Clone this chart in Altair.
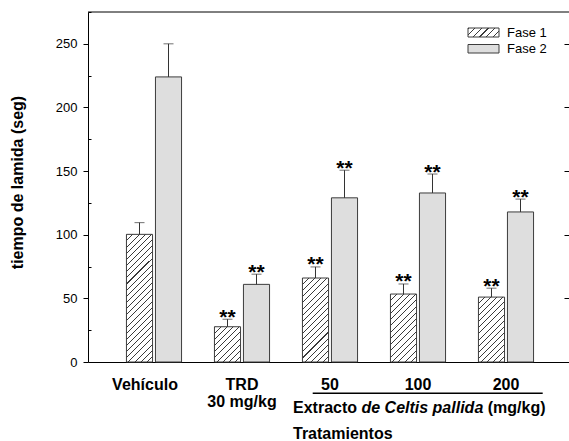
import math
import pandas as pd
import altair as alt

# ---- data ----
groups = ["Vehículo", "TRD\n30 mg/kg", "50", "100", "200"]
fases = ["Fase 1", "Fase 2"]
fase1 = [100.3, 27.7, 66.0, 53.4, 51.0]
fase1_top = [109.5, 33.6, 74.7, 61.3, 58.0]
fase2 = [224.0, 61.0, 129.0, 132.8, 117.9]
fase2_top = [250.0, 69.0, 150.7, 147.7, 128.0]
sig1 = ["", "**", "**", "**", "**"]
sig2 = ["", "**", "**", "**", "**"]
y_major = [0, 50, 100, 150, 200, 250]
y_minor = [25, 75, 125, 175, 225, 275]
ytitle = "tiempo de lamida (seg)"

rows = []
for i, g in enumerate(groups):
    rows.append(dict(grp=g, fase="Fase 1", val=fase1[i], top=fase1_top[i], sig=sig1[i]))
    rows.append(dict(grp=g, fase="Fase 2", val=fase2[i], top=fase2_top[i], sig=sig2[i]))
df = pd.DataFrame(rows)

W, H = 481, 350
YMAX = 275
FONT = "Liberation Sans"
EDGE = "#3c3c3c"
GRAY = "#dedede"


def hatch(w, h, period=4.4, frac=0.17, line="#3a3a3a"):
    L = (w + h) / math.sqrt(2)
    n = max(1, round(L / period))
    s = (w + h) / (w * w + h * h)
    stops = []
    for k in range(n):
        t0, t1, t2 = k / n, (k + frac) / n, (k + 1) / n
        stops += [
            {"offset": t0, "color": line},
            {"offset": t1, "color": line},
            {"offset": t1, "color": "white"},
            {"offset": t2, "color": "white"},
        ]
    return {"gradient": "linear", "x1": 0, "y1": 0, "x2": s * w, "y2": s * h, "stops": stops}


x_enc = alt.X(
    "grp:N",
    sort=groups,
    scale=alt.Scale(paddingInner=0, paddingOuter=0.233, align=0.5366),
    axis=alt.Axis(
        title=None, ticks=False, tickSize=0, domain=True, domainColor="black",
        labelExpr="split(datum.label, '\\n')",
        labelFont=FONT, labelFontSize=16, labelFontWeight="bold", labelColor="black",
        labelBaseline="middle", labelPadding=22, labelLineHeight=17.6, labelAngle=0,
        labelOffset={"condition": {"test": "datum.value === 'Vehículo'", "value": -9}, "value": 0},
    ),
)
xo_enc = alt.XOffset("fase:N", sort=fases,
                     scale=alt.Scale(paddingInner=0.1, paddingOuter=0.567))
y_scale = alt.Scale(domain=[0, YMAX], nice=False, zero=True)


def y_enc(field, axis=None):
    if axis is None:
        return alt.Y(field, type="quantitative", scale=y_scale, axis=None)
    return alt.Y(field, type="quantitative", scale=y_scale, axis=axis)


axis_major = alt.Axis(
    values=y_major, tickSize=5, tickColor="black", domainColor="black", grid=False,
    labelFont=FONT, labelFontSize=13, labelColor="black", labelPadding=6,
    title=ytitle, titleFont=FONT, titleFontSize=16, titleFontWeight="bold",
    titleColor="black", titleAngle=270, titleX=-65.4, titleY=170,
    titleAlign="center", titleBaseline="alphabetic", orient="left",
)
axis_minor = alt.Axis(values=y_minor, tickSize=3, tickColor="black", domain=False,
                      labels=False, grid=False, title=None, orient="left", offset=-3)
axis_right = alt.Axis(values=y_major, tickSize=5, tickColor="black", domain=False,
                      labels=False, grid=False, title=None, orient="right", offset=-5)

base = alt.Chart(df)

layers = []
# Fase 2 bars (grey)
layers.append(
    base.transform_filter(alt.datum.fase == "Fase 2")
    .mark_bar(fill=GRAY, stroke=EDGE, strokeWidth=1)
    .encode(x=x_enc, xOffset=xo_enc, y=y_enc("val", axis_major))
)
# Fase 1 bars (hatched), one layer per bar so the hatch keeps its angle
bar_w = 26.1
for i, g in enumerate(groups):
    h_px = fase1[i] / YMAX * H
    layers.append(
        base.transform_filter((alt.datum.fase == "Fase 1") & (alt.datum.grp == g))
        .mark_bar(fill=hatch(bar_w, h_px), stroke=EDGE, strokeWidth=1)
        .encode(x=x_enc, xOffset=xo_enc, y=y_enc("val"))
    )
# error bars (upper only)
layers.append(
    base.mark_rule(color="#333333", strokeWidth=1)
    .encode(x=x_enc, xOffset=xo_enc, y=y_enc("val", axis_minor), y2="top:Q")
)
layers.append(
    base.mark_tick(color="#333333", thickness=1, size=10, orient="horizontal")
    .encode(x=x_enc, xOffset=xo_enc, y=y_enc("top", axis_right))
)
# significance stars
layers.append(
    base.mark_text(font=FONT, fontSize=21, fontWeight="bold", color="black",
                   baseline="alphabetic", dy=4.5)
    .encode(x=x_enc, xOffset=xo_enc, y=y_enc("top"), text="sig:N")
)

# top border of the frame
leg = pd.DataFrame({"k": [0]})
lb = alt.Chart(leg)
layers.append(lb.mark_rule(color="black", strokeWidth=1).encode(
    x=alt.value(0), x2=alt.value(W), y=alt.value(0)))

# legend (drawn by hand)
layers.append(lb.mark_rect(fill=hatch(31, 9), stroke=EDGE, strokeWidth=1).encode(
    x=alt.value(380), x2=alt.value(411), y=alt.value(16), y2=alt.value(25)))
layers.append(lb.mark_rect(fill=GRAY, stroke=EDGE, strokeWidth=1).encode(
    x=alt.value(380), x2=alt.value(411), y=alt.value(32.5), y2=alt.value(41)))
layers.append(lb.mark_text(text="Fase 1", font=FONT, fontSize=13, align="left",
                           baseline="alphabetic", color="black").encode(
    x=alt.value(419), y=alt.value(24.7)))
layers.append(lb.mark_text(text="Fase 2", font=FONT, fontSize=13, align="left",
                           baseline="alphabetic", color="black").encode(
    x=alt.value(419), y=alt.value(41.3)))

# bracket + group caption
FS = 16
w_extracto = (0.667 + 0.556 + 0.333 + 0.389 + 0.556 + 0.556 + 0.333 + 0.611 + 0.278) * FS
w_celtis = (0.611 + 0.556 + 0.278 + 0.722 + 0.556 + 0.278 + 0.333 + 0.278 + 0.556 + 0.278
            + 0.611 + 0.556 + 0.278 + 0.278 + 0.278 + 0.611 + 0.556 + 0.278) * FS
x0 = 205
layers.append(lb.mark_rule(color="black", strokeWidth=1.5).encode(
    x=alt.value(224.7), x2=alt.value(454.7), y=alt.value(381.3)))
layers.append(lb.mark_text(text="Extracto ", font=FONT, fontSize=FS, fontWeight="bold",
                           align="left", baseline="alphabetic", color="black").encode(
    x=alt.value(x0), y=alt.value(401)))
layers.append(lb.mark_text(text="de Celtis pallida", font=FONT, fontSize=FS, fontWeight="bold",
                           fontStyle="italic", align="left", baseline="alphabetic",
                           color="black").encode(
    x=alt.value(x0 + w_extracto), y=alt.value(401)))
layers.append(lb.mark_text(text="(mg/kg)", font=FONT, fontSize=FS, fontWeight="bold",
                           align="left", baseline="alphabetic", color="black").encode(
    x=alt.value(x0 + w_extracto + w_celtis), y=alt.value(401)))
layers.append(lb.mark_text(text="Tratamientos", font=FONT, fontSize=FS, fontWeight="bold",
                           align="left", baseline="alphabetic", color="black").encode(
    x=alt.value(x0), y=alt.value(426.5)))

chart = (
    alt.layer(*layers)
    .resolve_axis(y="independent")
    .properties(
        width=W, height=H,
        autosize=alt.AutoSizeParams(type="none"),
        padding={"left": 88, "top": 12, "right": 0, "bottom": 79},
    )
    .configure(background="white", font=FONT)
    .configure_view(stroke=None)
)

chart.save("out.html", embed_options={"renderer": "svg", "actions": False})
